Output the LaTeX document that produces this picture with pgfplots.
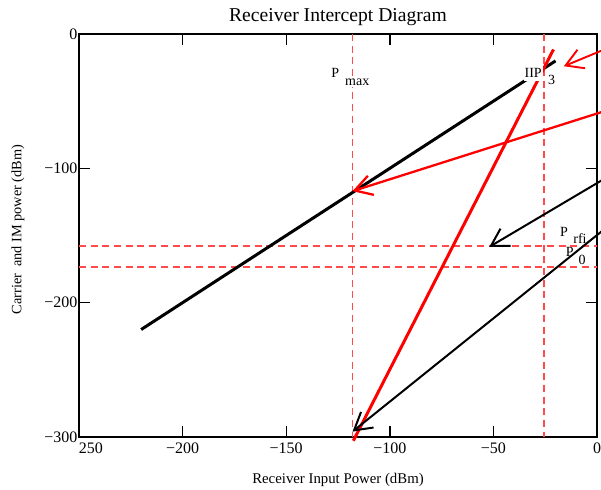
\documentclass[border=0pt]{standalone}
\usepackage{fontspec}
\setmainfont{Liberation Serif}
\usepackage{pgfplots}
\pgfplotsset{compat=1.18}
\usetikzlibrary{arrows.meta}

\definecolor{dashred}{RGB}{255,75,75}
\tikzset{
  barb/.style={-{Straight Barb[length=17bp,width=20bp]}, overlay},
  lbl/.style={anchor=base, font=\fontsize{14bp}{16bp}\selectfont, inner sep=1bp},
  refline/.style={color=dashred, line width=1.35bp, dash pattern=on 7bp off 4.7bp},
}

\begin{document}
\begin{tikzpicture}
\begin{axis}[
  scale only axis, width=518bp, height=403bp,
  xmin=-250, xmax=0, ymin=-300, ymax=0,
  clip=false,
  axis line style={line width=1.6bp},
  major tick length=11bp,
  tick style={line width=1.4bp, black},
  xtick={-250,-200,-150,-100,-50,0},
  xticklabels={\makebox[0pt][l]{250},−200,−150,−100,−50,0},
  ytick={-300,-200,-100,0},
  yticklabels={−300,−200,−100,0},
  ticklabel style={font=\fontsize{16bp}{18bp}\selectfont},
  xticklabel style={overlay, yshift=-2.5bp},
  yticklabel style={xshift=2bp},
]

% page frame
\path (rel axis cs:0,0) ++(-79bp,-51bp);
\path (rel axis cs:1,1) ++(4bp,34bp);

% title and axis labels
\node[anchor=base, font=\fontsize{19.6bp}{22bp}\selectfont]
  at ([yshift=12bp]rel axis cs:0.5,1) {Receiver Intercept Diagram};
\node[anchor=base, font=\fontsize{14.8bp}{17bp}\selectfont]
  at ([yshift=-46bp]rel axis cs:0.5,0) {Receiver Input Power (dBm)};
\node[anchor=center, rotate=90, font=\fontsize{14.3bp}{17bp}\selectfont]
  at ([xshift=-61bp]rel axis cs:0,0.515) {Carrier\ \ and IM power (dBm)};

% interference / noise floor labels (under the lines)
\node[lbl] at (axis cs:-15.9,-151) {P};
\node[lbl] at (axis cs:-8.2,-156) {rfi};
\node[lbl] at (axis cs:-13.2,-166) {P};
\node[lbl] at (axis cs:-7.2,-171.6) {0};

% reference levels
\addplot[refline] coordinates {(-118,0) (-118,-300)};
\addplot[refline] coordinates {(-25.5,0) (-25.5,-300)};
\addplot[refline] coordinates {(-250,-157.8) (0,-157.8)};
\addplot[refline] coordinates {(-250,-173.5) (0,-173.5)};

% fundamental (slope 1) and third-order product (slope 3)
\addplot[black, line width=3bp] coordinates {(-220,-220) (-20,-20)};
\addplot[red, line width=3bp] coordinates {(-117.6,-302.8) (-21,-11.5)};

% annotation arrows
\addplot[red, line width=1.9bp, barb] coordinates {(10,-7.4) (-16,-24)};
\addplot[red, line width=2.3bp, barb] coordinates {(10,-54.3) (-118,-117)};
\addplot[black, line width=2bp, barb] coordinates {(10,-101.9) (-52,-158.5)};
\addplot[black, line width=2bp, barb] coordinates {(10,-137.3) (-118,-296)};

% labels with opaque backgrounds
\node[lbl, fill=white] at (axis cs:-126.3,-32.3) {P};
\node[lbl, fill=white] at (axis cs:-115.7,-38.6) {max};
\node[lbl, fill=white, inner xsep=1bp, inner ysep=3bp] at (axis cs:-30.8,-32.5) {IIP};
\node[lbl, fill=white, inner ysep=3bp] at (axis cs:-21.9,-37.3) {3};
\end{axis}
\end{tikzpicture}
\end{document}
